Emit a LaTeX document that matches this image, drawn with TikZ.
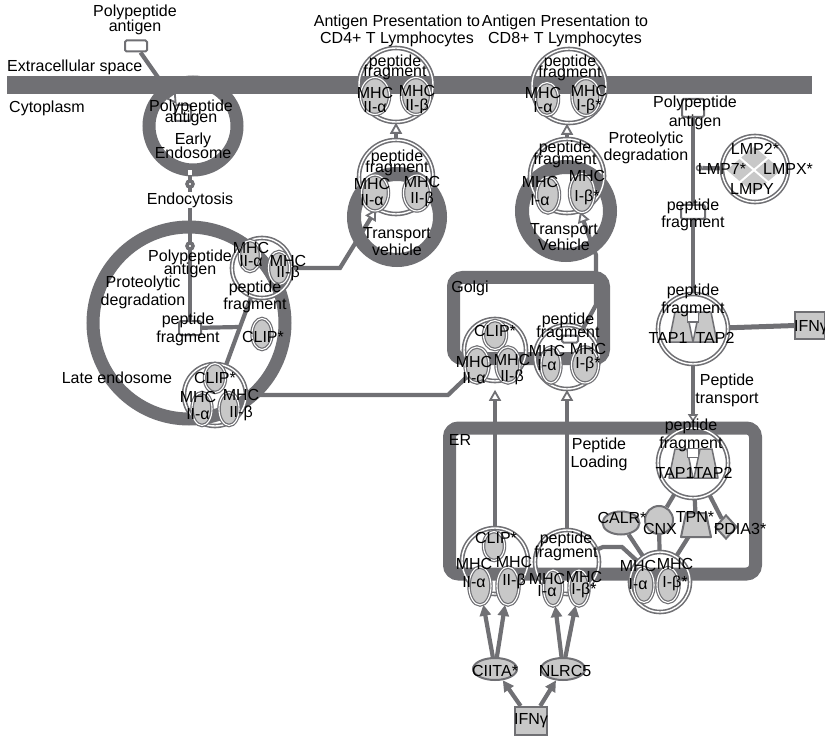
\documentclass[tikz,border=0pt]{standalone}
\usepackage{fontspec}
\setmainfont{Liberation Sans}
\usetikzlibrary{shapes.geometric,arrows.meta}
\definecolor{lg}{RGB}{112,112,116}
\definecolor{lf}{RGB}{200,200,200}
\pgfdeclarelayer{lzero}
\pgfdeclarelayer{lconn}
\pgfdeclarelayer{ltext}
\pgfsetlayers{lzero,lconn,main,ltext}
\newcommand\lblfnt[1]{\fontsize{16}{#1}\selectfont\lineskiplimit=-30pt\lineskip=0pt}
\tikzset{
  conn/.style={draw=lg, line width=4.2pt},
  comp/.style={draw=lg, line width=13pt, inner sep=0pt},
  cplx/.style={circle, draw=lg, double=white, double distance=1.4pt, line width=1.6pt, minimum size=#1, inner sep=0pt},
  sub/.style 2 args={ellipse, fill=lf, draw=lg, double=white, double distance=1.1pt, line width=1.2pt, minimum width=#1+3pt, minimum height=#2+3pt, inner sep=0pt},
  prot/.style={fill=lf, draw=lg, line width=2pt, inner sep=0pt},
  tapp/.style={fill=lf, draw=lg, line width=1.5pt, line join=round},
  chem/.style={rectangle, fill=white, draw=lg, line width=2pt, rounded corners=1.5pt, inner sep=0pt},
  lbl/.style={align=center, inner sep=0pt, font=\lblfnt{#1}},
  lbl/.default=17,
  mk/.style={circle, fill=white, draw=lg, line width=3.5pt, minimum size=6pt, inner sep=0pt},
  oarr/.style={-{Triangle[length=11pt, width=12pt, fill=white, line width=1.8pt]}},
  farr/.style={-{Triangle[length=11pt, width=11pt]}},
  lmpd/.style={diamond, fill=lf, draw=white, line width=1.5pt, minimum width=29pt, minimum height=25pt, inner sep=0pt},
}
\begin{document}
\begin{tikzpicture}[x=1pt,y=-1pt]
\useasboundingbox (0,0) rectangle (825,738);
% ---------- shapes (main layer)
\node[chem, minimum width=22pt, minimum height=11pt] (pa1) at (136,46) {};
\node[chem, minimum width=16pt, minimum height=16pt] (pa2) at (183,113) {};
\node[fill=white, inner sep=0pt, minimum width=4pt, minimum height=5pt] (port) at (190,173) {};
\coordinate (eeb) at (190,176);
\coordinate (pa3) at (190,262);
\node[mk] (mk1) at (190,184) {};
\node[mk] (mk2) at (190,246) {};
\node[chem, minimum width=22pt, minimum height=14pt] (pf1) at (190,328) {};
% late endosome
\node[sub={17pt}{28pt}] (clip1) at (262,334) {};
\node[cplx=60pt] (cx1) at (262,268) {};
\node[sub={18pt}{28pt}] (cx1a) at (250,256) {};
\node[sub={18pt}{30pt}] (cx1b) at (279,268) {};
\node[cplx=62pt] (cx2) at (215,395) {};
\node[sub={18pt}{26pt}] (cx2c) at (215,378) {};
\node[sub={17pt}{30pt}] (cx2a) at (202,409) {};
\node[sub={17pt}{30pt}] (cx2b) at (229,409) {};
% CD4 transport and surface
\node[cplx=74pt] (tv4c) at (396,177) {};
\node[sub={24pt}{33pt}] (tv4a) at (375,193) {};
\node[sub={24pt}{33pt}] (tv4b) at (417,193) {};
\node[cplx=74pt] (top4) at (396,85) {};
\node[sub={26pt}{34pt}] (top4a) at (375,96) {};
\node[sub={26pt}{34pt}] (top4b) at (416,96) {};
% CD8 transport and surface
\node[cplx=74pt] (tv8c) at (567,176) {};
\node[sub={20pt}{33pt}] (tv8a) at (548,195) {};
\node[sub={22pt}{36pt}] (tv8b) at (582,193) {};
\node[cplx=74pt] (top8) at (569,86) {};
\node[sub={20pt}{30pt}] (top8a) at (547,99) {};
\node[sub={25pt}{34pt}] (top8b) at (586,97) {};
% Golgi complexes
\node[cplx=62pt] (gc4) at (495,350) {};
\node[sub={20pt}{26pt}] (gc4c) at (495,335) {};
\node[sub={21pt}{33pt}] (gc4a) at (477,365) {};
\node[sub={21pt}{33pt}] (gc4b) at (508,365) {};
\node[cplx=64pt] (gc8) at (567,357) {};
\node[chem, minimum width=16pt, minimum height=7pt] (pfg) at (570,339) {};
\node[sub={17pt}{33pt}] (gc8a) at (551,365) {};
\node[sub={24pt}{33pt}] (gc8b) at (585,365) {};
% ER complexes
\node[cplx=66pt] (ec4) at (495,561) {};
\node[sub={18pt}{26pt}] (ec4c) at (494,546) {};
\node[sub={19pt}{35pt}] (ec4a) at (480,586) {};
\node[sub={19pt}{35pt}] (ec4b) at (508,586) {};
\node[cplx=64pt] (ec8) at (567,562) {};
\node[sub={16pt}{33pt}] (ec8a) at (553,588) {};
\node[sub={17pt}{33pt}] (ec8b) at (579,588) {};
% right side
\node[chem, minimum width=22pt, minimum height=18pt] (pa4) at (693,108) {};
\node[chem, minimum width=24pt, minimum height=14pt] (pf2) at (693,212) {};
\node[circle, fill=white, draw=lg, line width=1.5pt, minimum size=5pt, inner sep=0pt] (cat) at (699,168) {};
\node[cplx=66pt] (lmp) at (755,169) {};
\node[lmpd] (lmp2) at (754,157.5) {};
\node[lmpd] (lmpy) at (754,182.5) {};
\node[lmpd] (lmp7) at (739.5,170) {};
\node[lmpd] (lmpx) at (768.5,170) {};
\node[cplx=70pt] (tapc) at (693,329) {};
\draw[tapp, shift={(681,327)}] (-12,15) -- (-6,-15) -- (6,-15) -- (12,15) -- cycle;
\draw[tapp, shift={(705,327)}] (-12,15) -- (-6,-15) -- (6,-15) -- (12,15) -- cycle;
\node[chem, rounded corners=0pt, line width=1.5pt, minimum width=11pt, minimum height=10pt] (pf3) at (693,317) {};
\node[prot, rectangle, minimum width=30pt, minimum height=27pt] (ifn1) at (810,325) {};
\node[cplx=70pt] (tape) at (693,463) {};
\draw[tapp, shift={(681,463)}] (-12,15) -- (-6,-14) -- (6,-14) -- (12,15) -- cycle;
\draw[tapp, shift={(706,463)}] (-12,15) -- (-6,-14) -- (6,-14) -- (12,15) -- cycle;
\node[chem, rounded corners=0pt, line width=1.5pt, minimum width=11pt, minimum height=9pt] (pf4) at (693,453) {};
\node[prot, ellipse, minimum width=37pt, minimum height=23pt] (calr) at (621,523) {};
\node[prot, circle, minimum size=28pt] (cnx) at (659,520) {};
\coordinate (tpn) at (696,525);
\draw[tapp, line width=2pt, shift={(696,525)}] (-15,12) -- (-10,-12) -- (10,-12) -- (15,12) -- cycle;
\node[prot, diamond, minimum width=22pt, minimum height=24pt] (pdia) at (726,527) {};
\node[cplx=60pt] (mhc1) at (660,582) {};
\node[sub={17pt}{32pt}] (mhc1a) at (644,585) {};
\node[sub={19pt}{32pt}] (mhc1b) at (668,585) {};
\node[prot, ellipse, minimum width=44pt, minimum height=22pt] (ciita) at (495,669) {};
\node[prot, ellipse, minimum width=44pt, minimum height=22pt] (nlrc) at (563,669) {};
\node[prot, rectangle, minimum width=32pt, minimum height=28pt] (ifn2) at (531,721) {};
% ---------- compartments
\begin{pgfonlayer}{lzero}
\fill[white] (0,0) rectangle (825,738);
\draw[conn, oarr] (pa1) -- (pa2);
\node[fill=lg, inner sep=0pt, minimum width=805pt, minimum height=18pt, anchor=north west] (mem) at (7,76) {};
\node[comp, circle, minimum size=88pt] (ee) at (193,126) {};
\node[comp, circle, minimum size=192pt] (le) at (189,323) {};
\node[comp, circle, minimum size=86pt, line width=14pt] (tv4) at (397,217) {};
\node[comp, circle, minimum size=88pt, line width=14pt] (tv8) at (566,211) {};
\node[comp, rectangle, rounded corners=9pt, minimum width=150pt, minimum height=81pt] (golgi) at (528.5,318) {};
\node[comp, rectangle, rounded corners=9pt, minimum width=306pt, minimum height=146pt] (er) at (602.5,501) {};
\end{pgfonlayer}
% ---------- connectors
\begin{pgfonlayer}{lconn}
\draw[conn] (eeb) -- (pa3) -- (pf1);
\coordinate (j1) at (240,327);
\draw[conn] (pf1) -- (j1);
\draw[conn] (cx2) -- (j1) -- (cx1);
\coordinate (j2) at (340,268);
\draw[conn, oarr] (cx1.east) -- (j2) -- (tv4c);
\draw[conn, oarr] (tv4c.north) -- (tv4c.north |- top4.south);
\coordinate (j3) at (448,395);
\draw[conn] (cx2.east |- j3) -- (j3) -- (gc4);
\draw[conn, oarr] (tv8c.north) -- (tv8c.north |- top8.south);
\coordinate (j4) at (596,305);
\coordinate (j5) at (596,255);
\draw[conn, oarr] (gc8) -- (j4) -- (j5) -- (tv8c);
\draw[conn, oarr, shorten >=8pt] (ec4.north) -- (ec4.north |- gc4.south);
\draw[conn, oarr] (ec8.north) -- (ec8.north |- gc8.south);
\draw[conn] (pa4) -- (pf2);
\draw[conn] (lmp) -- (cat);
\draw[conn] (pf2) -- (tapc);
\draw[conn, line width=5pt] (tapc) -- (ifn1);
\draw[conn, -{Triangle[length=8pt, width=10pt, fill=white, line width=1.6pt]}, shorten >=5pt] (tapc.south) -- (tape.north);
\draw[conn] (tape) -- (cnx);
\draw[conn] (tape) -- (tpn);
\draw[conn] (tape) -- (pdia);
\draw[conn] (mhc1) -- (calr);
\draw[conn] (mhc1) -- (cnx);
\draw[conn] (mhc1) -- (tpn);
\coordinate (j6) at (603,547);
\coordinate (j7) at (622,547);
\draw[conn] (ec8) -- (j6) -- (j7) -- (mhc1);
\draw[conn, farr] (ifn2) -- (ciita);
\draw[conn, farr] (ifn2) -- (nlrc);
\draw[conn, farr] (ciita) -- (ec4a);
\draw[conn, farr] (ciita) -- (ec4b);
\draw[conn, farr] (nlrc) -- (ec8a);
\draw[conn, farr] (nlrc) -- (ec8b);
\end{pgfonlayer}
% ---------- text
\begin{pgfonlayer}{ltext}
\node[lbl=15] (t1) at (135,20) {Polypeptide\\antigen};
\node[lbl, anchor=west] (t2) at (7,67) {Extracellular space};
\node[lbl, anchor=west] (t3) at (9,108) {Cytoplasm};
\node[lbl] (t4) at (397,31) {Antigen Presentation to\\CD4+ T Lymphocytes};
\node[lbl] (t5) at (565,31) {Antigen Presentation to\\CD8+ T Lymphocytes};
\node[lbl=11] (t6) at (191,113) {Polypeptide\\antigen};
\node[lbl=14] (t7) at (193,146) {Early\\Endosome};
\node[lbl, fill=white, inner sep=1pt] (t8) at (190,200) {Endocytosis};
\node[lbl=13] (t9) at (190,264) {Polypeptide\\antigen};
\node[lbl=18] (t10) at (143,292) {Proteolytic\\degradation};
\node[lbl=18] (t11) at (188,329) {peptide\\fragment};
\node[lbl=13] (t12) at (251,254) {MHC\\II-α};
\node[lbl=11] (t13) at (288,268) {MHC\\II-β};
\node[lbl=17] (t14) at (255,297) {peptide\\fragment};
\node[lbl] (t15) at (263,337) {CLIP*};
\node[lbl] (t16) at (117,378) {Late endosome};
\node[lbl] (t17) at (215,378) {CLIP*};
\node[lbl=17] (t18) at (198,405) {MHC\\II-α};
\node[lbl=17] (t19) at (241,405) {MHC\\II-β};
\node[lbl=10] (t20) at (395,67) {peptide\\fragment};
\node[lbl=14] (t21) at (375,100) {MHC\\II-α};
\node[lbl=14] (t22) at (417,100) {MHC\\II-β};
\node[lbl=11] (t23) at (397,163) {peptide\\fragment};
\node[lbl=16] (t24) at (372,192) {MHC\\II-α};
\node[lbl=16] (t25) at (422,192) {MHC\\II-β};
\node[lbl=17] (t26) at (397,242) {Transport\\vehicle};
\node[lbl=11] (t27) at (570,68) {peptide\\fragment};
\node[lbl=14] (t28) at (543,100) {MHC\\I-α};
\node[lbl=14] (t29) at (589,100) {MHC\\I-β*};
\node[lbl=12] (t30) at (565,154) {peptide\\fragment};
\node[lbl=18] (t31) at (540,191) {MHC\\I-α};
\node[lbl=20] (t32) at (587,188) {MHC\\I-β*};
\node[lbl=16] (t33) at (564,237) {Transport\\Vehicle};
\node[lbl] (t34) at (470,288) {Golgi};
\node[lbl] (t35) at (495,331) {CLIP*};
\node[lbl=16] (t36) at (474,370) {MHC\\II-α};
\node[lbl=16] (t37) at (512,370) {MHC\\II-β};
\node[lbl=13] (t38) at (568,327) {peptide\\fragment};
\node[lbl=14] (t39) at (547,358) {MHC\\I-α};
\node[lbl=14] (t40) at (588,358) {MHC\\I-β*};
\node[lbl] (t41) at (460,440) {ER};
\node[lbl=18] (t42) at (599,454) {Peptide\\Loading};
\node[lbl] (t43) at (496,538) {CLIP*};
\node[lbl=18] (t44) at (474,573) {MHC\\II-α};
\node[lbl=18] (t45) at (514,573) {MHC\\II-β};
\node[lbl=14] (t46) at (566,546) {peptide\\fragment};
\node[lbl=12] (t47) at (547,585) {MHC\\I-α};
\node[lbl=12] (t48) at (584,585) {MHC\\I-β*};
\node[lbl=19] (t49) at (695,113) {Polypeptide\\antigen};
\node[lbl=17] (t50) at (646,148) {Proteolytic\\degradation};
\node[lbl] (t51) at (755,149) {LMP2*};
\node[lbl] (t52) at (722,169) {LMP7*};
\node[lbl] (t53) at (788,169) {LMPX*};
\node[lbl] (t54) at (752,189) {LMPY};
\node[lbl=17] (t55) at (693,215) {peptide\\fragment};
\node[lbl=18] (t56) at (693,300) {peptide\\fragment};
\node[lbl] (t57) at (668,338) {TAP1};
\node[lbl] (t58) at (715,338) {TAP2};
\node[lbl, anchor=west] (t59) at (794,328) {IFNγ};
\node[lbl=18] (t60) at (727,390) {Peptide\\transport};
\node[lbl=18] (t61) at (691,435) {peptide\\fragment};
\node[lbl] (t62) at (675,473) {TAP1};
\node[lbl] (t63) at (713,473) {TAP2};
\node[lbl] (t64) at (622,518) {CALR*};
\node[lbl] (t65) at (660,529) {CNX};
\node[lbl] (t66) at (695,517) {TPN*};
\node[lbl] (t67) at (740,529) {PDIA3*};
\node[lbl=18] (t68) at (638,575) {MHC\\I-α};
\node[lbl=18] (t69) at (675,575) {MHC\\I-β*};
\node[lbl] (t70) at (495,671) {CIITA*};
\node[lbl] (t71) at (565,671) {NLRC5};
\node[lbl] (t72) at (531,721) {IFNγ};
\end{pgfonlayer}
\end{tikzpicture}
\end{document}
